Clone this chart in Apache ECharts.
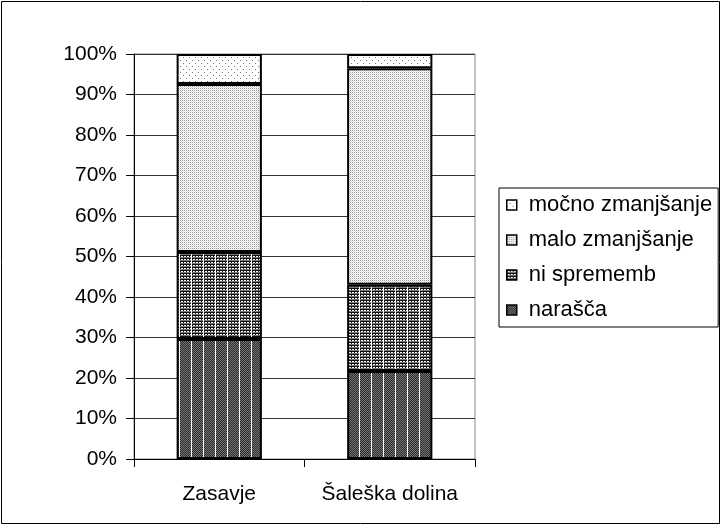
<!DOCTYPE html>
<html>
<head>
<meta charset="utf-8">
<script src="https://cdn.jsdelivr.net/npm/echarts@6/dist/echarts.min.js"></script>
<style>
  html, body { margin: 0; padding: 0; background: #fff; }
  #chart { width: 722px; height: 526px; }
</style>
</head>
<body>
<div id="chart"></div>
<script>
// podatki (v %)
var categories = ["Zasavje", "Šaleška dolina"];
var narasca = [29.6, 21.7];
var niSprememb = [21.5, 21.3];
var maloZmanjsanje = [41.5, 53.5];
var mocnoZmanjsanje = [7.4, 3.5];
var yTicks = [0, 10, 20, 30, 40, 50, 60, 70, 80, 90, 100];

// vzorci za polnila (kot v Excelu)
function makePattern(w, h, draw) {
  var c = document.createElement("canvas");
  c.width = w; c.height = h;
  var ctx = c.getContext("2d");
  ctx.fillStyle = "#fff";
  ctx.fillRect(0, 0, w, h);
  draw(ctx);
  return { image: c, repeat: "repeat" };
}

var patMocno = makePattern(6, 6, function (ctx) {
  ctx.fillStyle = "#777";
  ctx.fillRect(0, 0, 1, 1);
  ctx.fillRect(3, 3, 1, 1);
});
var patMalo = makePattern(2, 2, function (ctx) {
  ctx.fillStyle = "#999";
  ctx.fillRect(0, 0, 1, 1);
  ctx.fillStyle = "#ddd";
  ctx.fillRect(1, 1, 1, 1);
});
var patNi = makePattern(12, 3, function (ctx) {
  ctx.fillStyle = "#111";
  ctx.fillRect(0, 0, 12, 1);
  for (var x = 0; x < 12; x += 3) ctx.fillRect(x, 0, 1, 3);
  ctx.fillStyle = "#777";
  ctx.fillRect(0, 2, 12, 1);
  ctx.fillStyle = "#fff";
  ctx.fillRect(11, 0, 1, 3);
});
var patNarasca = makePattern(12, 2, function (ctx) {
  ctx.fillStyle = "#2a2a2a";
  ctx.fillRect(0, 0, 12, 2);
  ctx.fillStyle = "#777";
  for (var x = 0; x < 12; x += 2) { ctx.fillRect(x, 0, 1, 1); ctx.fillRect(x + 1, 1, 1, 1); }
  ctx.fillStyle = "#fff";
  ctx.fillRect(11, 0, 1, 2);
});

var font = "Liberation Sans, Arial, sans-serif";

function barSeries(name, data, pattern) {
  return {
    name: name,
    type: "bar",
    stack: "skupaj",
    barWidth: "50%",
    data: data,
    itemStyle: { color: pattern, borderColor: "#000", borderWidth: 2 },
    emphasis: { disabled: true }
  };
}

var myChart = echarts.init(document.getElementById("chart"), null, { renderer: "canvas" });
myChart.setOption({
  animation: false,
  backgroundColor: "#fff",
  graphic: [{
    type: "rect",
    shape: { x: 1.5, y: 1.5, width: 718, height: 522 },
    style: { fill: null, stroke: "#000", lineWidth: 1 },
    silent: true
  }],
  grid: {
    left: 134, right: 247, top: 54, bottom: 67,
    show: true, borderColor: "#888", borderWidth: 1, backgroundColor: "transparent"
  },
  legend: {
    orient: "vertical",
    left: 499, top: 188,
    padding: [6, 6, 6, 7],
    itemWidth: 10, itemHeight: 10,
    itemGap: 13,
    icon: "rect",
    itemStyle: { borderColor: "#000", borderWidth: 1.5 },
    borderColor: "#000", borderWidth: 1,
    selectedMode: false,
    data: ["močno zmanjšanje", "malo zmanjšanje", "ni sprememb", "narašča"],
    textStyle: { fontFamily: font, fontSize: 22, color: "#000", padding: [0, 0, 0, 7] }
  },
  xAxis: {
    type: "category",
    data: categories,
    axisLine: { lineStyle: { color: "#000", width: 1 } },
    axisTick: { show: true, length: 8, interval: 0, lineStyle: { color: "#000" } },
    axisLabel: { fontFamily: font, fontSize: 21, color: "#000", margin: 25, interval: 0 }
  },
  yAxis: {
    type: "value",
    min: 0, max: 100, interval: 10,
    axisLine: { show: true, lineStyle: { color: "#000", width: 1 } },
    axisTick: { show: true, length: 8, lineStyle: { color: "#000" } },
    axisLabel: {
      fontFamily: font, fontSize: 21, color: "#000", margin: 17,
      formatter: function (v) { return yTicks.indexOf(v) >= 0 ? v + "%" : ""; }
    },
    splitLine: { lineStyle: { color: "#333", width: 1 } }
  },
  series: [
    barSeries("narašča", narasca, patNarasca),
    barSeries("ni sprememb", niSprememb, patNi),
    barSeries("malo zmanjšanje", maloZmanjsanje, patMalo),
    barSeries("močno zmanjšanje", mocnoZmanjsanje, patMocno)
  ]
});
</script>
</body>
</html>
